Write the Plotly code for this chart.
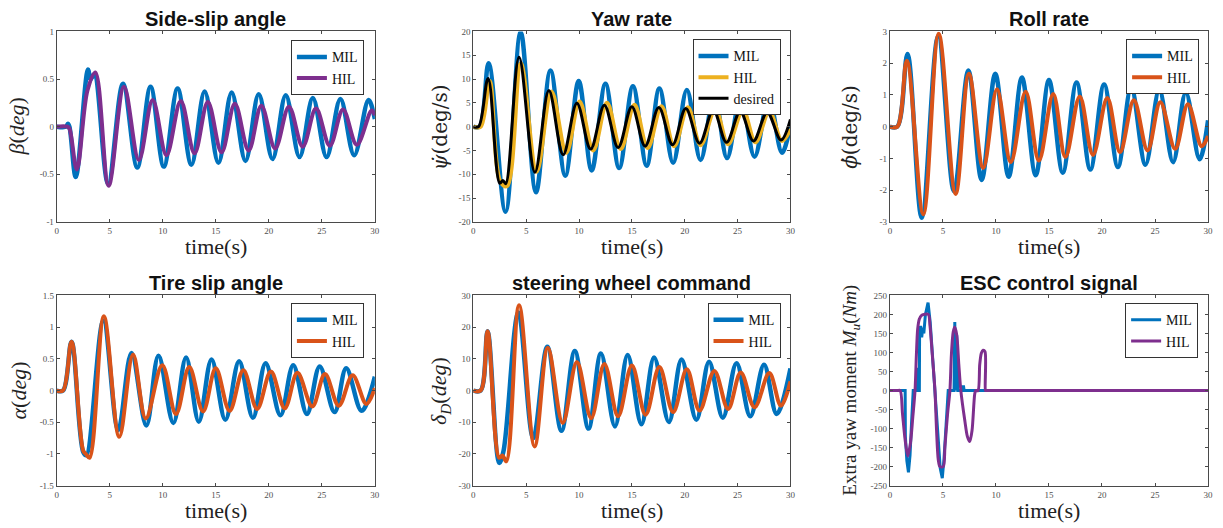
import plotly.graph_objects as go

# ---------------------------------------------------------------- data
# Side-slip angle (deg)
t_beta_mil = [0, 0.9, 1.05, 1.2, 1.8, 2.95, 3.2, 3.55, 4.85, 6.25, 7.6, 8.85, 10.1, 11.4, 12.7, 13.95,
              15.25, 16.5, 17.8, 19.05, 20.35, 21.6, 22.9, 24.15, 25.45, 26.75, 28.05, 29.4, 30]
beta_mil = [0, 0.0, 0.03, 0.0, -0.53, 0.6, 0.5, 0.55, -0.6, 0.45, -0.43, 0.42, -0.42, 0.4, -0.4, 0.37,
            -0.38, 0.36, -0.36, 0.34, -0.34, 0.33, -0.32, 0.3, -0.32, 0.29, -0.3, 0.28, 0.08]
t_beta_hil = [0, 1.0, 1.2, 1.9, 2.9, 3.65, 4.9, 6.35, 7.75, 9.05, 10.35, 11.7, 13.0, 14.25, 15.55,
              16.8, 18.1, 19.3, 20.6, 21.9, 23.2, 24.45, 25.75, 27.0, 28.3, 29.7, 30]
beta_hil = [0, 0, -0.02, -0.45, 0.38, 0.57, -0.62, 0.42, -0.35, 0.28, -0.3, 0.27, -0.28, 0.26, -0.27,
            0.24, -0.25, 0.22, -0.23, 0.21, -0.21, 0.19, -0.2, 0.18, -0.19, 0.17, 0.12]

# Yaw rate (deg/s)
t_yaw_mil = [0, 0.6, 1.45, 3.05, 4.48, 5.93, 7.3, 8.7, 9.97, 11.2, 12.5, 13.8, 15.1, 16.4, 17.6, 18.9,
             20.2, 21.5, 22.8, 24.0, 25.3, 26.6, 27.95, 29.2, 30]
yaw_mil = [0, 0, 13.3, -17.9, 19.9, -13.8, 11.8, -10.3, 9.6, -9.2, 9.0, -8.7, 8.5, -8.2, 8.0, -7.6,
           7.7, -7.0, 6.8, -6.6, 6.3, -6.3, 6.0, -5.5, 0.5]
t_yaw_hil = [0, 0.7, 1.55, 2.55, 3.2, 4.5, 6.0, 7.4, 8.8, 10.05, 11.35, 12.65, 13.95, 15.25, 16.5,
             17.8, 19.0, 20.3, 21.5, 22.9, 24.1, 25.5, 26.7, 28.0, 29.2, 30]
yaw_hil = [0, 0, 9.6, -11.5, -12.5, 13.3, -9.5, 7.4, -5.5, 5.3, -5.0, 5.0, -4.7, 4.6, -4.5, 4.3,
           -4.1, 4.1, -3.9, 3.7, -3.7, 3.4, -3.3, 3.2, -3.0, -0.5]
t_yaw_des = [0, 0.5, 1.4, 2.5, 2.8, 3.07, 4.33, 5.83, 7.15, 8.5, 9.8, 11.1, 12.4, 13.7, 15.0, 16.25,
             17.55, 18.85, 20.1, 21.4, 22.7, 23.95, 25.25, 26.5, 27.8, 29.1, 30]
yaw_des = [0, 0, 10.1, -11.9, -11.3, -12.0, 14.6, -9.6, 7.6, -5.9, 4.9, -4.7, 4.5, -4.4, 4.2, -4.1,
           4.0, -3.8, 3.8, -3.5, 3.5, -3.3, 3.2, -3.0, 3.0, -2.8, 1.5]

# Roll rate (deg/s)
t_roll_mil = [0, 0.7, 1.66, 3.0, 4.55, 6.05, 7.4, 8.65, 9.94, 11.2, 12.45, 13.75, 15.0, 16.3, 17.6,
              18.9, 20.2, 21.5, 22.75, 24.1, 25.4, 26.7, 27.9, 29.2, 30]
roll_mil = [0, 0, 2.29, -2.87, 2.85, -2.04, 1.77, -1.68, 1.67, -1.58, 1.55, -1.53, 1.47, -1.45, 1.39,
            -1.35, 1.33, -1.27, 1.24, -1.2, 1.16, -1.12, 1.08, -1.03, 0.2]
t_roll_hil = [0, 0.7, 1.6, 3.15, 4.6, 6.2, 7.45, 8.8, 10.1, 11.4, 12.8, 14.05, 15.4, 16.55, 17.9,
              19.15, 20.5, 21.7, 23.0, 24.3, 25.5, 26.9, 28.1, 29.4, 30]
roll_hil = [0, 0, 2.08, -2.76, 2.93, -2.12, 1.67, -1.3, 1.18, -1.12, 1.1, -1.07, 1.03, -0.96, 0.95,
            -0.89, 0.9, -0.8, 0.83, -0.75, 0.77, -0.7, 0.71, -0.62, -0.29]

# Tire slip angle (deg)
t_alpha_mil = [0, 0.6, 1.4, 2.5, 2.8, 4.4, 5.8, 7.05, 8.45, 9.6, 11.0, 12.2, 13.4, 14.6, 15.9, 17.2,
               18.5, 19.7, 21.1, 22.3, 23.6, 24.8, 26.2, 27.3, 28.75, 30]
alpha_mil = [0, 0, 0.77, -0.97, -1.02, 1.1, -0.62, 0.59, -0.55, 0.55, -0.51, 0.52, -0.49, 0.49, -0.46,
             0.46, -0.43, 0.43, -0.39, 0.4, -0.37, 0.38, -0.34, 0.35, -0.32, 0.22]
t_alpha_hil = [0, 0.6, 1.4, 2.5, 2.75, 3.1, 4.45, 5.9, 7.2, 8.4, 9.95, 11.25, 12.5, 13.8, 15.0, 16.3,
               17.6, 18.9, 20.2, 21.5, 22.7, 24.1, 25.3, 26.6, 27.9, 29.2, 30]
alpha_hil = [0, 0, 0.77, -0.95, -1.0, -1.06, 1.17, -0.73, 0.57, -0.44, 0.4, -0.37, 0.37, -0.33, 0.35,
             -0.32, 0.32, -0.29, 0.3, -0.28, 0.28, -0.25, 0.26, -0.24, 0.24, -0.21, 0.04]

# Steering wheel command (deg)
t_steer_mil = [0, 0.7, 1.35, 2.45, 2.85, 4.26, 5.67, 7.0, 8.34, 9.6, 10.9, 12.07, 13.4, 14.6, 15.9,
               17.1, 18.5, 19.7, 21.1, 22.3, 23.6, 24.9, 26.2, 27.5, 28.7, 30]
steer_mil = [0, 0, 18.7, -22.8, -19.2, 24.6, -15.0, 13.8, -12.7, 12.5, -12.0, 11.7, -11.3, 11.2, -10.6,
             10.4, -9.9, 9.8, -9.2, 9.1, -8.6, 8.6, -8.1, 8.1, -7.4, 7.0]
t_steer_hil = [0, 0.7, 1.35, 2.45, 2.76, 3.13, 4.33, 5.8, 7.05, 8.46, 9.8, 11.15, 12.4, 13.7, 15.0,
               16.3, 17.6, 18.9, 20.2, 21.4, 22.8, 24.1, 25.3, 26.6, 28.0, 29.1, 30]
steer_hil = [0, 0, 18.7, -21.2, -20.5, -22.3, 26.9, -17.6, 13.5, -10.2, 9.0, -8.7, 8.4, -8.1, 7.9,
             -7.6, 7.4, -6.8, 6.7, -6.3, 6.2, -5.8, 5.7, -5.3, 5.5, -4.8, 2.9]

# ESC extra yaw moment (Nm)
t_esc_mil = [0, 1.44, 1.46, 1.6, 1.75, 1.9, 2.05, 2.2, 2.55, 2.57, 2.6, 2.62, 2.78, 2.8, 2.9, 3.0, 3.1,
             3.2, 3.35, 3.6, 3.8, 4.0, 4.25, 4.5, 4.75, 4.94, 5.1, 5.3, 5.5, 6.05, 6.12, 6.18, 6.25,
             6.3, 6.4, 6.45, 6.75, 6.8, 6.95, 7.0, 30]
esc_mil = [0, 0, -120, -185, -215, -170, -80, 0, 0, 60, 60, 0, 0, 150, 170, 140, 165,
           150, 200, 231, 180, 100, 0, -120, -205, -230, -180, -90, 0, 0, 180, 0, 145,
           145, 0, 0, 0, 10, 10, 0, 0]
t_esc_hil = [0, 0.7, 0.97, 1.19, 1.44, 1.69, 1.94, 2.16, 2.37, 2.5, 2.62, 2.78, 3.0, 3.62, 3.78, 4.0,
             4.25, 4.4, 4.56, 4.72, 5.03, 5.19, 5.44, 5.66, 5.8, 5.97, 6.12, 6.31, 6.5, 6.69, 7.06,
             7.31, 7.53, 7.75, 8.0, 8.1, 8.31, 8.47, 8.62, 8.78, 8.97, 9.0, 9.03, 9.5, 30]
esc_hil = [0, 0, 0, -61, -130, -172, -138, -70, 0, 94, 162, 188, 198, 200, 171, 94,
           0, -104, -181, -200, -200, -147, -61, 0, 94, 154, 167, 145, 68, 0, -78,
           -121, -134, -104, -9, 0, 0, 68, 98, 106, 102, 0, 0, 0, 0]

# tick marks
time_ticks = [0, 5, 10, 15, 20, 25, 30]
beta_ticks = [-1, -0.5, 0, 0.5, 1]
yaw_ticks = [-20, -15, -10, -5, 0, 5, 10, 15, 20]
roll_ticks = [-3, -2, -1, 0, 1, 2, 3]
alpha_ticks = [-1.5, -1, -0.5, 0, 0.5, 1, 1.5]
steer_ticks = [-30, -20, -10, 0, 10, 20, 30]
esc_ticks = [-250, -200, -150, -100, -50, 0, 50, 100, 150, 200, 250]

# ---------------------------------------------------------------- styling
W, H = 1223, 528
BLUE, ORANGE, YELLOW, PURPLE, BLACK = "#0072BD", "#D95319", "#EDB120", "#7E2F8E", "#000000"
SERIF = "Liberation Serif"
SANS = "Liberation Sans"
AXCOL = "#4a4a4a"

cols = [(55, 375), (474, 793), (893, 1213)]
rows = [(27, 221), (296, 490)]


def fx(p):
    return p / W


def fy(p):
    return 1 - p / H


def lab(v):
    return f"{v:g}"


panels = [
    dict(title="Side-slip angle", ylabel="<i>β</i>(<i>deg</i>)", ticks=beta_ticks, ylabx=15,
         yfont=SERIF, leg=(364, 36),
         series=[("MIL", t_beta_mil, beta_mil, BLUE, 4.5), ("HIL", t_beta_hil, beta_hil, PURPLE, 4)]),
    dict(title="Yaw rate", ylabel="<i>ψ̇</i>(deg/s)", ticks=yaw_ticks, ylabx=440,
         yfont="DejaVu Serif", leg=(783, 35),
         series=[("MIL", t_yaw_mil, yaw_mil, BLUE, 4.5), ("HIL", t_yaw_hil, yaw_hil, YELLOW, 4),
                 ("desired", t_yaw_des, yaw_des, BLACK, 3)]),
    dict(title="Roll rate", ylabel="<i>ϕ̇</i>(deg/s)", ticks=roll_ticks, ylabx=853,
         yfont="DejaVu Serif", leg=(1204, 35),
         series=[("MIL", t_roll_mil, roll_mil, BLUE, 4.5), ("HIL", t_roll_hil, roll_hil, ORANGE, 4)]),
    dict(title="Tire slip angle", ylabel="<i>α</i>(<i>deg</i>)", ticks=alpha_ticks, ylabx=17,
         yfont=SERIF, leg=(364, 304),
         series=[("MIL", t_alpha_mil, alpha_mil, BLUE, 4.5), ("HIL", t_alpha_hil, alpha_hil, ORANGE, 4)]),
    dict(title="steering wheel command", ylabel="<i>δ<sub>D</sub></i>(<i>deg</i>)", ticks=steer_ticks,
         ylabx=440, yfont=SERIF, leg=(783, 304),
         series=[("MIL", t_steer_mil, steer_mil, BLUE, 4.5), ("HIL", t_steer_hil, steer_hil, ORANGE, 4)]),
    dict(title="ESC control signal", ylabel="Extra yaw moment <i>M<sub>u</sub></i>(<i>Nm</i>)",
         ticks=esc_ticks, ylabx=853, yfont=SERIF, leg=(1203, 304),
         series=[("MIL", t_esc_mil, esc_mil, BLUE, 3), ("HIL", t_esc_hil, esc_hil, PURPLE, 3)]),
]

fig = go.Figure()
layout = dict(
    width=W, height=H, autosize=False,
    margin=dict(l=0, r=0, t=0, b=0),
    paper_bgcolor="white", plot_bgcolor="white",
    showlegend=True,
)
annotations = []

for i, p in enumerate(panels):
    n = i + 1
    r, c = divmod(i, 3)
    x0, x1 = cols[c]
    y0, y1 = rows[r]
    xa = "x" if n == 1 else f"x{n}"
    ya = "y" if n == 1 else f"y{n}"
    legname = "legend" if n == 1 else f"legend{n}"
    esc = (n == 6)

    for name, t, v, col, w in p["series"]:
        shape = "linear" if (esc and name == "MIL") else "spline"
        fig.add_trace(go.Scatter(
            x=t, y=v, mode="lines", name=name,
            line=dict(color=col, width=w, shape=shape, smoothing=0.8 if esc else 1.0),
            xaxis=xa, yaxis=ya, legend=legname,
        ))

    axis_common = dict(
        showgrid=False, zeroline=False, showline=True, linecolor=AXCOL, linewidth=1,
        mirror="ticks", ticks="inside", ticklen=3, tickcolor=AXCOL,
        tickfont=dict(family=SERIF, size=9, color="#505050"),
    )
    layout["xaxis" if n == 1 else f"xaxis{n}"] = dict(
        axis_common, domain=[fx(x0), fx(x1)], anchor=ya, range=[0, 30],
        tickvals=time_ticks, ticktext=[lab(v) for v in time_ticks],
    )
    yt = p["ticks"]
    layout["yaxis" if n == 1 else f"yaxis{n}"] = dict(
        axis_common, domain=[fy(y1), fy(y0)], anchor=xa, range=[yt[0], yt[-1]],
        tickvals=yt, ticktext=[lab(v) for v in yt],
    )

    lx, ly = p["leg"]
    layout[legname] = dict(
        x=fx(lx), y=fy(ly), xanchor="right", yanchor="top",
        xref="paper", yref="paper",
        bgcolor="white", bordercolor="#333333", borderwidth=1,
        font=dict(family=SERIF, size=14, color="#111111"),
        tracegroupgap=0, itemwidth=30,
    )

    cx = (x0 + x1) / 2
    annotations.append(dict(
        text=f"<b>{p['title']}</b>", x=fx(cx), y=fy(y0 - 13), xref="paper", yref="paper",
        xanchor="center", yanchor="middle", showarrow=False,
        font=dict(family=SANS, size=20, color="#111111"),
    ))
    annotations.append(dict(
        text="time(s)", x=fx(cx), y=fy(y1 + 25), xref="paper", yref="paper",
        xanchor="center", yanchor="middle", showarrow=False,
        font=dict(family=SERIF, size=22, color="#222222"),
    ))
    annotations.append(dict(
        text=p["ylabel"], x=fx(p["ylabx"]), y=fy((y0 + y1) / 2), xref="paper", yref="paper",
        xanchor="center", yanchor="middle", showarrow=False, textangle=-90,
        font=dict(family=p["yfont"], size=19 if esc else (20 if p["yfont"] != SERIF else 22),
                  color="#222222"),
    ))

layout["annotations"] = annotations
fig.update_layout(**layout)
fig.write_html("out.html")
